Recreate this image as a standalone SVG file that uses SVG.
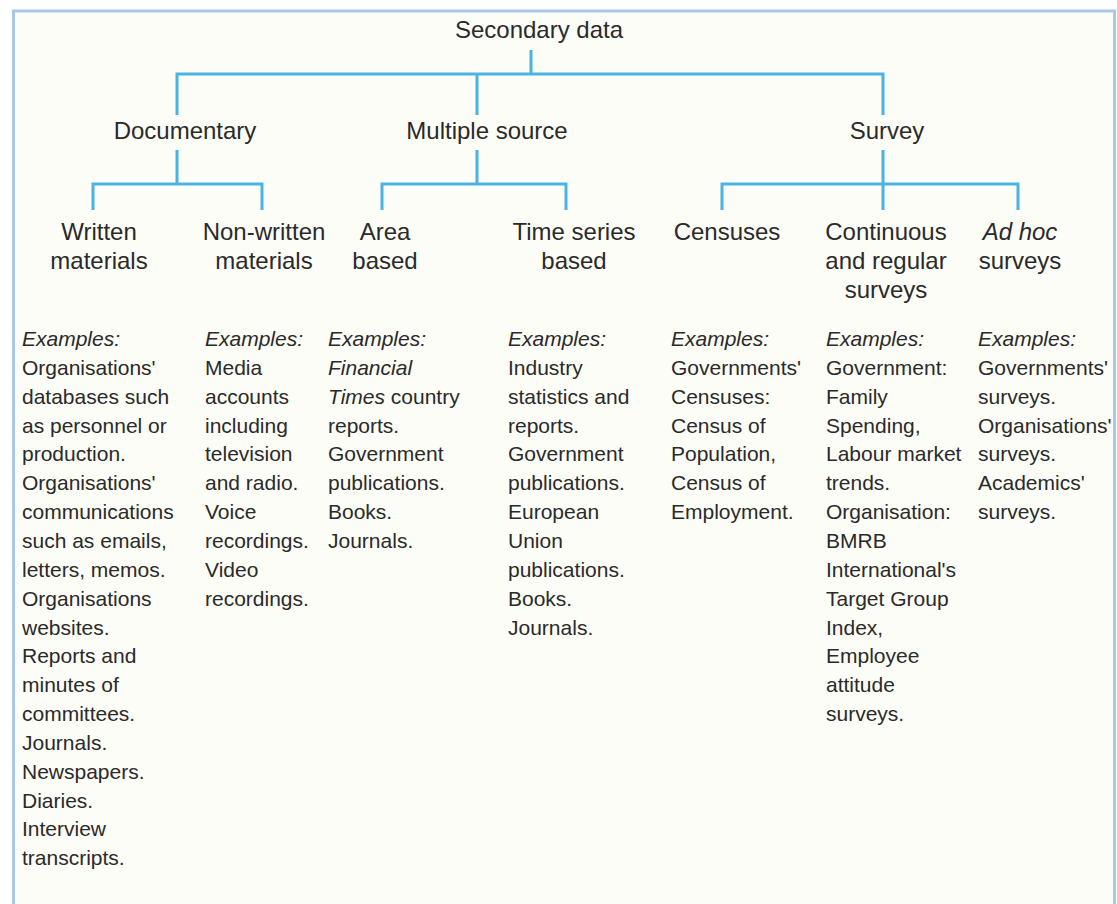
<svg xmlns="http://www.w3.org/2000/svg" width="1117" height="904" viewBox="0 0 1117 904">
<style>
text{font-family:"Liberation Sans",Arial,sans-serif;fill:#2a2a2a}
.h{font-size:24px;text-anchor:middle}
.b{font-size:21px}
.i{font-style:italic}
.c{fill:none;stroke:#4ab3e2;stroke-width:3}
</style>
<rect x="0" y="0" width="1117" height="904" fill="#ffffff"/>
<path d="M13.5,906 V11 H1114.5 V906" fill="#fdfdf8" stroke="#a8c8e6" stroke-width="3"/>
<g id="connectors" class="c">
<path d="M531,50 V74"/>
<path d="M177,115 V74 H883 V115"/>
<path d="M477,74 V115"/>
<path d="M177,150 V184"/>
<path d="M93,210 V184 H262 V210"/>
<path d="M477,150 V184"/>
<path d="M382,210 V184 H566 V210"/>
<path d="M883,150 V210"/>
<path d="M722,210 V184 H1018 V210"/>
</g>
<g id="root"><text class="h" x="539" y="38">Secondary data</text></g>
<g id="documentary"><text class="h" x="185" y="139">Documentary</text></g>
<g id="multiple"><text class="h" x="487" y="139">Multiple source</text></g>
<g id="survey"><text class="h" x="887" y="139">Survey</text></g>
<g id="written">
<text class="h" x="99" y="240">Written</text>
<text class="h" x="99" y="269">materials</text>
<text class="b" x="22"><tspan class="i" x="22" y="346">Examples:</tspan><tspan x="22" y="374.85">Organisations'</tspan><tspan x="22" y="403.7">databases such</tspan><tspan x="22" y="432.55">as personnel or</tspan><tspan x="22" y="461.4">production.</tspan><tspan x="22" y="490.25">Organisations'</tspan><tspan x="22" y="519.1">communications</tspan><tspan x="22" y="547.95">such as emails,</tspan><tspan x="22" y="576.8">letters, memos.</tspan><tspan x="22" y="605.65">Organisations</tspan><tspan x="22" y="634.5">websites.</tspan><tspan x="22" y="663.35">Reports and</tspan><tspan x="22" y="692.2">minutes of</tspan><tspan x="22" y="721.05">committees.</tspan><tspan x="22" y="749.9">Journals.</tspan><tspan x="22" y="778.75">Newspapers.</tspan><tspan x="22" y="807.6">Diaries.</tspan><tspan x="22" y="836.45">Interview</tspan><tspan x="22" y="865.3">transcripts.</tspan></text>
</g>
<g id="nonwritten">
<text class="h" x="264" y="240">Non-written</text>
<text class="h" x="264" y="269">materials</text>
<text class="b"><tspan class="i" x="205" y="346">Examples:</tspan><tspan x="205" y="374.85">Media</tspan><tspan x="205" y="403.7">accounts</tspan><tspan x="205" y="432.55">including</tspan><tspan x="205" y="461.4">television</tspan><tspan x="205" y="490.25">and radio.</tspan><tspan x="205" y="519.1">Voice</tspan><tspan x="205" y="547.95">recordings.</tspan><tspan x="205" y="576.8">Video</tspan><tspan x="205" y="605.65">recordings.</tspan></text>
</g>
<g id="area">
<text class="h" x="385" y="240">Area</text>
<text class="h" x="385" y="269">based</text>
<text class="b"><tspan class="i" x="328" y="346">Examples:</tspan><tspan class="i" x="328" y="374.85">Financial</tspan><tspan class="i" x="328" y="403.7">Times</tspan><tspan> country</tspan><tspan x="328" y="432.55">reports.</tspan><tspan x="328" y="461.4">Government</tspan><tspan x="328" y="490.25">publications.</tspan><tspan x="328" y="519.1">Books.</tspan><tspan x="328" y="547.95">Journals.</tspan></text>
</g>
<g id="timeseries">
<text class="h" x="574" y="240">Time series</text>
<text class="h" x="574" y="269">based</text>
<text class="b"><tspan class="i" x="508" y="346">Examples:</tspan><tspan x="508" y="374.85">Industry</tspan><tspan x="508" y="403.7">statistics and</tspan><tspan x="508" y="432.55">reports.</tspan><tspan x="508" y="461.4">Government</tspan><tspan x="508" y="490.25">publications.</tspan><tspan x="508" y="519.1">European</tspan><tspan x="508" y="547.95">Union</tspan><tspan x="508" y="576.8">publications.</tspan><tspan x="508" y="605.65">Books.</tspan><tspan x="508" y="634.5">Journals.</tspan></text>
</g>
<g id="censuses">
<text class="h" x="727" y="240">Censuses</text>
<text class="b"><tspan class="i" x="671" y="346">Examples:</tspan><tspan x="671" y="374.85">Governments'</tspan><tspan x="671" y="403.7">Censuses:</tspan><tspan x="671" y="432.55">Census of</tspan><tspan x="671" y="461.4">Population,</tspan><tspan x="671" y="490.25">Census of</tspan><tspan x="671" y="519.1">Employment.</tspan></text>
</g>
<g id="continuous">
<text class="h" x="886" y="240">Continuous</text>
<text class="h" x="886" y="269">and regular</text>
<text class="h" x="886" y="298">surveys</text>
<text class="b"><tspan class="i" x="826" y="346">Examples:</tspan><tspan x="826" y="374.85">Government:</tspan><tspan x="826" y="403.7">Family</tspan><tspan x="826" y="432.55">Spending,</tspan><tspan x="826" y="461.4">Labour market</tspan><tspan x="826" y="490.25">trends.</tspan><tspan x="826" y="519.1">Organisation:</tspan><tspan x="826" y="547.95">BMRB</tspan><tspan x="826" y="576.8">International's</tspan><tspan x="826" y="605.65">Target Group</tspan><tspan x="826" y="634.5">Index,</tspan><tspan x="826" y="663.35">Employee</tspan><tspan x="826" y="692.2">attitude</tspan><tspan x="826" y="721.05">surveys.</tspan></text>
</g>
<g id="adhoc">
<text class="h i" x="1020" y="240">Ad hoc</text>
<text class="h" x="1020" y="269">surveys</text>
<text class="b"><tspan class="i" x="978" y="346">Examples:</tspan><tspan x="978" y="374.85">Governments'</tspan><tspan x="978" y="403.7">surveys.</tspan><tspan x="978" y="432.55">Organisations'</tspan><tspan x="978" y="461.4">surveys.</tspan><tspan x="978" y="490.25">Academics'</tspan><tspan x="978" y="519.1">surveys.</tspan></text>
</g>
</svg>
